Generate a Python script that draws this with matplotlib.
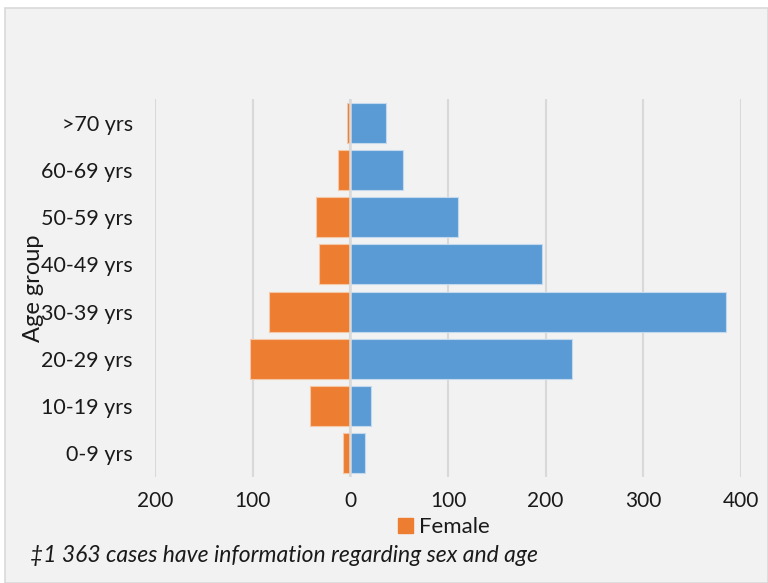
import matplotlib
matplotlib.use("Agg")
import matplotlib.pyplot as plt
from matplotlib.patches import Rectangle, Patch
from matplotlib.ticker import FuncFormatter

categories = ["0-9 yrs", "10-19 yrs", "20-29 yrs", "30-39 yrs",
              "40-49 yrs", "50-59 yrs", "60-69 yrs", ">70 yrs"]
female = [8, 41, 103, 83, 32, 35, 13, 3]
male = [15, 21, 227, 385, 196, 110, 54, 37]
xticks = [-200, -100, 0, 100, 200, 300, 400]

ORANGE = "#ED7D31"
BLUE = "#5B9BD5"
BG = "#F2F2F2"
GRID = "#D9D9D9"
FONT = ["Lato", "DejaVu Sans"]
TXT = "#1a1a1a"

plt.rcParams["font.family"] = FONT

fig = plt.figure(figsize=(7.68, 5.83), dpi=100)
fig.patch.set_facecolor("white")
fig.patches.append(Rectangle((5/768, 0), 1 - 5/768, 1 - 8/583, transform=fig.transFigure,
                             facecolor=BG, edgecolor=GRID, linewidth=1.2, zorder=-10))

ax = fig.add_axes([155/768, 1 - 477/583, (741 - 155)/768, (477 - 99)/583])
ax.set_facecolor(BG)
ypos = list(range(len(categories)))
ax.barh(ypos, [-v for v in female], height=0.85, color=ORANGE, edgecolor="#f4c7a6",
        linewidth=0.8, zorder=3, label="Female")
ax.barh(ypos, male, height=0.85, color=BLUE, edgecolor="#c5d9ee",
        linewidth=0.8, zorder=3, label="Male")
ax.axvline(0, color=GRID, lw=1.8, zorder=4)

ax.set_xlim(-200, 400)
ax.set_ylim(-0.5, len(categories) - 0.5)
ax.set_xticks(xticks)
ax.xaxis.set_major_formatter(FuncFormatter(lambda v, p: f"{abs(int(v))}"))
ax.set_yticks(ypos)
ax.set_yticklabels(categories)
ax.grid(axis="x", color=GRID, lw=1.5, zorder=0)
ax.set_axisbelow(True)
for s in ax.spines.values():
    s.set_visible(False)
ax.tick_params(axis="both", length=0, colors=TXT)
ax.tick_params(axis="x", labelsize=15, pad=10)
ax.tick_params(axis="y", labelsize=15.5, pad=16)

fig.text(33/768, 1 - 288/583, "Age group", rotation=90, ha="center", va="center",
         fontsize=17, color=TXT)

fig.legend(handles=[Patch(facecolor=ORANGE, edgecolor=ORANGE, label="Female")],
           loc="center", bbox_to_anchor=(444/768, 1 - 527/583), frameon=False,
           fontsize=16, handlelength=0.65, handleheight=0.65, handletextpad=0.3,
           borderpad=0, borderaxespad=0, labelcolor=TXT)

fig.text(30/768, 1 - 556/583, "‡1 363 cases have information regarding sex and age",
         ha="left", va="center", fontsize=16.5, style="italic", color=TXT)

fig.savefig("out.png", dpi=100, facecolor=fig.get_facecolor())
